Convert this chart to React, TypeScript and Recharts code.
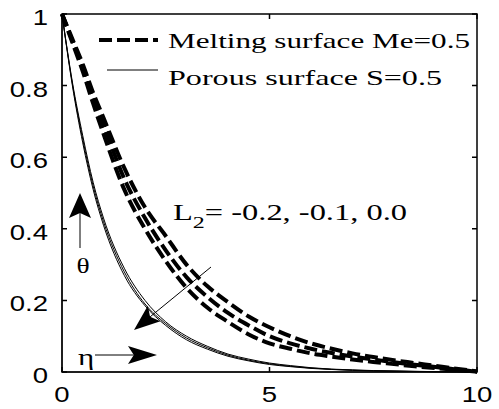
import { LineChart, Line, XAxis, YAxis } from 'recharts';

// similarity variable η
const eta = [0, 0.25, 0.5, 0.75, 1, 1.5, 2, 2.5, 3, 3.5, 4, 4.5, 5, 5.5, 6, 6.5, 7, 7.5, 8, 8.5, 9, 9.5, 10];

// melting surface Me=0.5, L2 = -0.2, -0.1, 0.0
const meltL2a = [1, 0.93, 0.86, 0.78, 0.71, 0.57, 0.46, 0.38, 0.3, 0.24, 0.195, 0.155, 0.125, 0.1, 0.08, 0.065, 0.052, 0.042, 0.033, 0.025, 0.017, 0.009, 0.002];
const meltL2b = [1, 0.925, 0.85, 0.765, 0.69, 0.54, 0.43, 0.34, 0.265, 0.21, 0.165, 0.13, 0.1, 0.08, 0.065, 0.053, 0.043, 0.035, 0.027, 0.02, 0.014, 0.007, 0.001];
const meltL2c = [1, 0.92, 0.84, 0.75, 0.665, 0.51, 0.4, 0.31, 0.235, 0.18, 0.14, 0.105, 0.08, 0.065, 0.052, 0.043, 0.035, 0.028, 0.022, 0.016, 0.011, 0.006, 0.001];

// porous surface S=0.5, same L2 values
const porL2a = [1, 0.81, 0.66, 0.53, 0.43, 0.29, 0.2, 0.14, 0.1, 0.072, 0.05, 0.036, 0.025, 0.018, 0.012, 0.008, 0.006, 0.004, 0.003, 0.002, 0.001, 0.0005, 0];
const porL2b = [1, 0.805, 0.65, 0.52, 0.42, 0.28, 0.19, 0.135, 0.095, 0.068, 0.047, 0.033, 0.023, 0.016, 0.011, 0.0075, 0.005, 0.0035, 0.0025, 0.0015, 0.001, 0.0005, 0];
const porL2c = [1, 0.8, 0.64, 0.51, 0.41, 0.27, 0.185, 0.13, 0.09, 0.064, 0.044, 0.031, 0.021, 0.015, 0.01, 0.007, 0.0045, 0.003, 0.002, 0.0012, 0.0008, 0.0004, 0];

const xTicks = [0, 5, 10];
const yTicks = [0, 0.2, 0.4, 0.6, 0.8, 1];

const data = eta.map((e, i) => ({
  eta: e,
  d1: meltL2a[i],
  d2: meltL2b[i],
  d3: meltL2c[i],
  s1: porL2a[i],
  s2: porL2b[i],
  s3: porL2c[i],
}));

const SANS = 'Liberation Sans';
const SERIF = 'Liberation Serif';
const DASH = '13 5';

// plot box in pixels
const L = 62, R = 477, T = 14, B = 372;

function YTick({ x, y, payload }: any) {
  return (
    <text transform={`translate(${x},${y + 11}) scale(1.25,1)`} textAnchor="end"
      fontFamily={SANS} fontSize={22} fill="#000">
      {String(payload.value)}
    </text>
  );
}

function XTick({ x, payload }: any) {
  return (
    <text transform={`translate(${x},402) scale(1.25,1)`} textAnchor="middle"
      fontFamily={SANS} fontSize={22} fill="#000">
      {String(payload.value)}
    </text>
  );
}

// filled arrow head with a notched base, pointing at (x2, y2)
function Arrow({ x1, y1, x2, y2, len = 25, half = 10 }: any) {
  const dx = x2 - x1;
  const dy = y2 - y1;
  const d = Math.hypot(dx, dy);
  const ux = dx / d;
  const uy = dy / d;
  const bx = x2 - ux * len;
  const by = y2 - uy * len;
  const nx = x2 - ux * len * 0.8;
  const ny = y2 - uy * len * 0.8;
  const pts = [
    [x2, y2],
    [bx - uy * half, by + ux * half],
    [nx, ny],
    [bx + uy * half, by - ux * half],
  ].map(p => p.join(',')).join(' ');
  return (
    <g>
      <line x1={x1} y1={y1} x2={nx} y2={ny} stroke="#000" strokeWidth={1} />
      <polygon points={pts} fill="#000" />
    </g>
  );
}

export default function App() {
  const sx = (v: number) => L + (v / 10) * (R - L);
  const sy = (v: number) => B - v * (B - T);
  return (
    <div style={{ position: 'absolute', left: 0, top: 0, width: 499, height: 409, background: '#fff' }}>
      <LineChart width={499} height={409} data={data} margin={{ top: T, right: 499 - R, bottom: 0, left: 0 }}>
        <XAxis dataKey="eta" type="number" domain={[0, 10]} ticks={xTicks} height={409 - B}
          stroke="#000" tickLine={false} tick={<XTick />} />
        <YAxis type="number" domain={[0, 1]} ticks={yTicks} width={L}
          stroke="#000" tickLine={false} tickMargin={8} tick={<YTick />} />
        <Line dataKey="s1" type="monotone" stroke="#000" strokeWidth={1} dot={false} isAnimationActive={false} />
        <Line dataKey="s2" type="monotone" stroke="#000" strokeWidth={1} dot={false} isAnimationActive={false} />
        <Line dataKey="s3" type="monotone" stroke="#000" strokeWidth={1} dot={false} isAnimationActive={false} />
        <Line dataKey="d1" type="monotone" stroke="#000" strokeWidth={4} strokeDasharray={DASH} dot={false} isAnimationActive={false} />
        <Line dataKey="d2" type="monotone" stroke="#000" strokeWidth={4} strokeDasharray={DASH} dot={false} isAnimationActive={false} />
        <Line dataKey="d3" type="monotone" stroke="#000" strokeWidth={4} strokeDasharray={DASH} dot={false} isAnimationActive={false} />

        <g fontFamily={SERIF} fill="#000">
          {/* frame with inward ticks */}
          <rect x={L} y={T} width={R - L} height={B - T} fill="none" stroke="#000" strokeWidth={1.5} />
          {xTicks.map(v => (
            <path key={`x${v}`} d={`M${sx(v)},${B}v-5M${sx(v)},${T}v5`} stroke="#000" strokeWidth={1.5} />
          ))}
          {yTicks.map(v => (
            <path key={`y${v}`} d={`M${L},${sy(v)}h5M${R},${sy(v)}h-5`} stroke="#000" strokeWidth={1.5} />
          ))}

          {/* legend */}
          <line x1={99} y1={40} x2={158} y2={40} stroke="#000" strokeWidth={4} strokeDasharray={DASH} />
          <text x={168} y={48} fontSize={22} textLength={302} lengthAdjust="spacingAndGlyphs">
            Melting surface Me=0.5
          </text>
          <line x1={107} y1={70} x2={158} y2={70} stroke="#000" strokeWidth={1} />
          <text x={168} y={85} fontSize={22} textLength={274} lengthAdjust="spacingAndGlyphs">
            Porous surface S=0.5
          </text>

          {/* parameter annotation */}
          <text x={173} y={220} fontSize={23} textLength={234} lengthAdjust="spacingAndGlyphs">
            L<tspan dy={8} fontSize={17}>2</tspan><tspan dy={-8}>= -0.2, -0.1, 0.0</tspan>
          </text>
          <Arrow x1={211} y1={267} x2={134} y2={330} len={26} half={10} />

          {/* axis direction markers */}
          <Arrow x1={80} y1={248} x2={80} y2={193} len={25} half={11} />
          <text transform="translate(83,273) scale(1.25,1)" textAnchor="middle" fontSize={22}>θ</text>
          <text transform="translate(86,365) scale(1.35,1)" textAnchor="middle" fontSize={23}>η</text>
          <Arrow x1={95} y1={355} x2={157} y2={355} len={29} half={9} />
        </g>
      </LineChart>
    </div>
  );
}
